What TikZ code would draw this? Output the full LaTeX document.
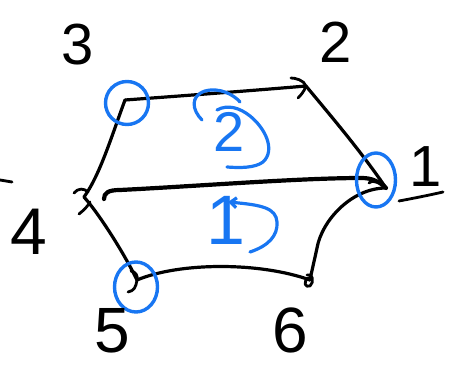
\documentclass[tikz,border=0pt]{standalone}
\usepackage{fontspec}
\setmainfont{Liberation Sans}
\usetikzlibrary{shapes.geometric,arrows.meta}
\definecolor{myblue}{RGB}{24,118,242}
\begin{document}
\begin{tikzpicture}[x=1pt,y=-1pt,
  edge/.style={line width=3.2pt,line cap=round,line join=round},
  chord/.style={line width=4.2pt,line cap=round,line join=round},
  scrib/.style={line width=2.8pt,line cap=round,line join=round},
  ring/.style={draw=myblue,line width=3.4pt,ellipse,inner sep=0pt},
  vlab/.style={inner sep=0pt,font=\fontsize{58}{58}\selectfont},
  flab/.style={inner sep=0pt,text=myblue,font=\fontsize{56}{56}\selectfont},
  farc/.style={draw=myblue,line width=3.2pt,line cap=round,line join=round}]
\useasboundingbox (0,0) rectangle (456,366);

% vertices
\coordinate (v1) at (386,188);
\coordinate (v2) at (306,86);
\coordinate (v3) at (125,100);
\coordinate (v4) at (84,197);
\coordinate (v5) at (137,280);
\coordinate (v6) at (310,280);
\coordinate (a4) at (104,199);

% hexagon edges
\draw[edge] (v3) .. controls (180,96) and (260,90) .. (v2);
\draw[edge] (v2) .. controls (330,115) and (360,150) .. (v1);
\draw[edge] (v1) .. controls (352,188) and (322,220) .. (317,248) .. controls (314,262) and (312,270) .. (v6);
\draw[edge] (v6) .. controls (260,262) and (180,262) .. (v5);
\draw[edge] (v4) .. controls (100,215) and (125,255) .. (v5);
\draw[edge] (v3) .. controls (112,135) and (100,175) .. (v4);

% chord 4 -- 1
\draw[chord] (a4) .. controls (104,193) and (108,190) .. (120,190)
  .. controls (200,186) and (300,178) .. (362,178)
  .. controls (372,178) and (380,182) .. (v1);

% vertex scribbles
\draw[scrib] (v2) ++(-15,-8) .. controls (295,78) and (304,80) .. (v2) .. controls (304,92) and (300,96) .. (298,98);
\draw[scrib] (74,193) .. controls (78,188) and (84,188) .. (88,192);
\draw[scrib] (79,214) .. controls (84,210) and (88,206) .. (90,202);
\draw[scrib] (131,271) .. controls (136,272) and (138,276) .. (v5) .. controls (136,287) and (134,291) .. (128,292);
\draw[scrib] (v6) ++(-3,-5) .. controls (312,272) and (315,282) .. (310,286) .. controls (305,288) and (303,282) .. (308,278);
\draw[scrib] (369,183) .. controls (373,178) and (377,186) .. (381,180);

% blue rings
\node[ring,minimum width=43pt,minimum height=43pt] (r3) at (127,103) {};
\node[ring,minimum width=39pt,minimum height=54pt] (r1) at (376,180) {};
\node[ring,minimum width=43pt,minimum height=50pt] (r5) at (136,287) {};

% vertex labels
\node[vlab] (l3) at (78,45) {3};
\node[vlab] (l2) at (336,42) {2};
\node[vlab] (l1) at (426,167) {1};
\node[vlab,font=\fontsize{66}{66}\selectfont] (l4) at (29,232) {4};
\node[vlab,font=\fontsize{64}{64}\selectfont] (l5) at (112,331) {5};
\node[vlab,font=\fontsize{64}{64}\selectfont] (l6) at (290,330) {6};

% stray strokes
\draw[scrib] (0,180) -- (12,182);
\draw[scrib] (399,201) .. controls (415,198) and (430,195) .. (443,192);

% face 2
\node[flab] (f2) at (229,132) {2};
\draw[farc] (202,120) .. controls (192,110) and (190,96) .. (205,91) .. controls (220,87) and (234,95) .. (240,102);
\draw[farc] (217,110) .. controls (228,104) and (240,108) .. (250,116)
  .. controls (265,128) and (276,150) .. (263,162) .. controls (255,168) and (240,168) .. (227,167);

% face 1
\node[flab,font=\fontsize{70}{70}\selectfont] (f1) at (226,220) {1};
\draw[farc,-{Straight Barb[length=6pt,width=10pt]}] (250,252) .. controls (268,246) and (278,236) .. (277,222)
  .. controls (276,208) and (262,205) .. (228,202);
\end{tikzpicture}
\end{document}
